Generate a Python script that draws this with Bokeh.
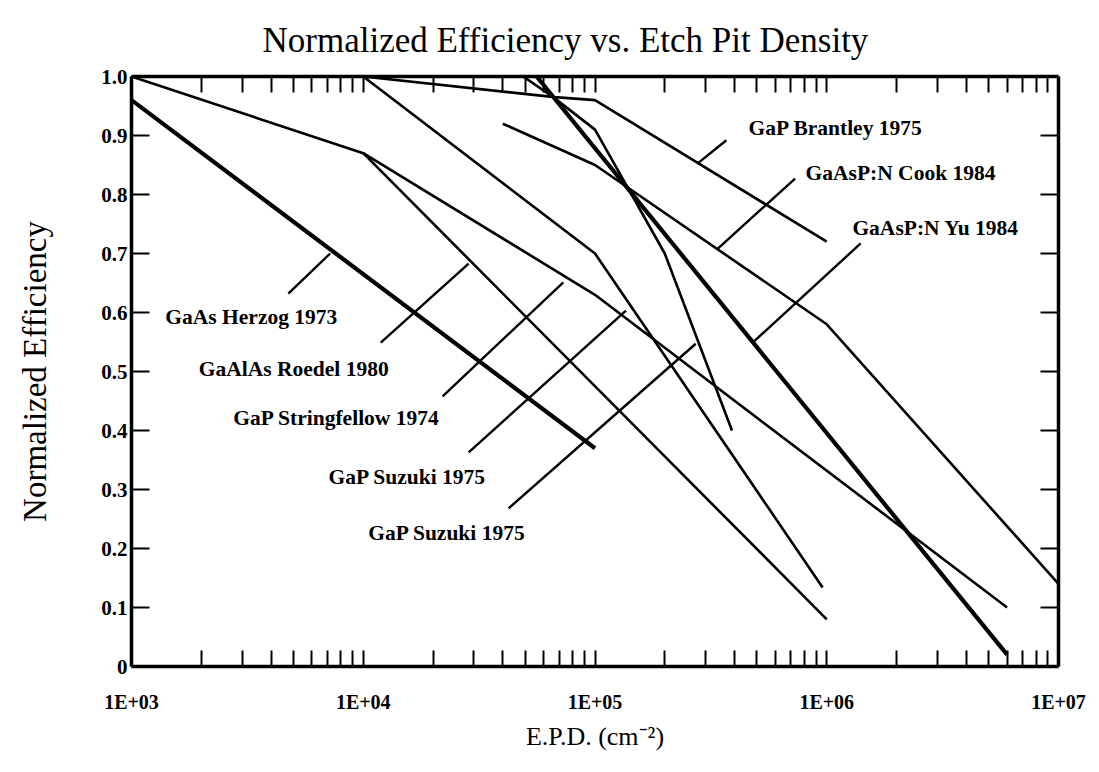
import math
from bokeh.plotting import figure
from bokeh.models import (FixedTicker, CustomJSTickFormatter, LogAxis, LinearAxis,
                          ColumnDataSource)
from bokeh.core.properties import value
from bokeh.embed import file_html
from bokeh.resources import INLINE

# ---------------- data ----------------
herzog_x = [1e3, 1e5]
herzog_y = [0.96, 0.37]

stringfellow_x = [1e3, 1e4, 1e5, 6e6]
stringfellow_y = [1.0, 0.87, 0.63, 0.10]

roedel_x = [1e4, 1e6]
roedel_y = [0.87, 0.08]

suzuki1_x = [1e4, 1e5, 9.6e5]
suzuki1_y = [1.0, 0.70, 0.134]

brantley_x = [1e4, 6.7e4, 1e5, 1e6]
brantley_y = [1.0, 0.965, 0.96, 0.72]

cook_x = [4e4, 1e5, 1e6, 1e7]
cook_y = [0.92, 0.85, 0.58, 0.14]

yu_x = [5.6e4, 6e6]
yu_y = [1.0, 0.02]

suzuki2_x = [4.9e4, 6.6e4, 1e5, 2e5, 3.9e5]
suzuki2_y = [1.0, 0.965, 0.91, 0.70, 0.40]

# labels and leader lines (data coordinates)
label_text = ["GaP Brantley 1975", "GaAsP:N Cook 1984", "GaAsP:N Yu 1984",
              "GaAs Herzog 1973", "GaAlAs Roedel 1980", "GaP Stringfellow 1974",
              "GaP Suzuki 1975", "GaP Suzuki 1975"]
label_x = [4.6e5, 8.1e5, 1.29e6, 1.40e3, 1.95e3, 2.75e3, 7.08e3, 1.05e4]
label_y = [0.912, 0.837, 0.744, 0.593, 0.505, 0.422, 0.322, 0.227]
leader_x0 = [2.8e5, 3.38e5, 4.79e5, 4.75e3, 1.19e4, 2.2e4, 2.85e4, 4.24e4]
leader_y0 = [0.854, 0.708, 0.549, 0.632, 0.549, 0.458, 0.363, 0.268]
leader_x1 = [3.69e5, 7.3e5, 1.4e6, 7.2e3, 2.85e4, 7.3e4, 1.36e5, 2.72e5]
leader_y1 = [0.892, 0.827, 0.717, 0.700, 0.683, 0.651, 0.603, 0.547]

x_decades = [1e3, 1e4, 1e5, 1e6, 1e7]
y_ticks = [0.0, 0.1, 0.2, 0.3, 0.4, 0.5, 0.6, 0.7, 0.8, 0.9, 1.0]

FONT = "Liberation Serif"
W, H = 1091, 764

p = figure(width=W, height=H, x_axis_type="log", x_range=(1e3, 1e7), y_range=(0, 1),
           output_backend="svg", toolbar_location=None,
           title="Normalized Efficiency vs. Etch Pit Density",
           min_border_left=131, min_border_right=33, min_border_top=76, min_border_bottom=98)
p.xgrid.visible = False
p.ygrid.visible = False
p.outline_line_color = None
p.background_fill_color = "white"
p.border_fill_color = "white"

p.title.text_font = FONT
p.title.text_font_size = "35px"
p.title.text_font_style = "normal"
p.title.text_color = "black"
p.title.align = "left"
p.title.offset = 131
p.title.standoff = 33

minor = [d * k for d in x_decades[:-1] for k in range(2, 10)]
xticker = FixedTicker(ticks=x_decades, minor_ticks=minor)
yticker = FixedTicker(ticks=y_ticks)

xfmt = CustomJSTickFormatter(code="return '1E+0' + Math.round(Math.log10(tick));")
yfmt = CustomJSTickFormatter(code="return tick < 0.05 ? '0' : tick.toFixed(1);")
blank = CustomJSTickFormatter(code="return '';")


def style_axis(ax):
    ax.axis_line_width = 3.5
    ax.axis_line_color = "black"
    ax.major_tick_in = 16
    ax.major_tick_out = 0
    ax.minor_tick_in = 16
    ax.minor_tick_out = 0
    ax.major_tick_line_width = 2
    ax.minor_tick_line_width = 2
    ax.major_tick_line_color = "black"
    ax.minor_tick_line_color = "black"
    ax.major_label_text_font = FONT
    ax.major_label_text_font_style = "bold"
    ax.major_label_text_font_size = "20px"
    ax.major_label_text_color = "black"
    ax.axis_label_text_font = FONT
    ax.axis_label_text_font_style = "normal"
    ax.axis_label_text_color = "black"


xa = p.xaxis[0]
xa.ticker = xticker
xa.formatter = xfmt
style_axis(xa)
xa.major_label_standoff = 24
xa.axis_label = "E.P.D. (cm\u207b\u00b2)"
xa.axis_label_text_font_size = "26px"
xa.axis_label_standoff = 6

ya = p.yaxis[0]
ya.ticker = yticker
ya.formatter = yfmt
style_axis(ya)
ya.minor_tick_in = 0
ya.major_tick_in = 18
ya.major_label_standoff = 4
ya.major_label_text_font_size = "21px"
ya.axis_label = "Normalized Efficiency"
ya.axis_label_text_font_size = "33px"
ya.axis_label_standoff = 45

top = LogAxis(ticker=xticker, formatter=blank)
style_axis(top)
top.major_label_text_font_size = "0px"
top.major_label_standoff = 0
p.add_layout(top, "above")

right = LinearAxis(ticker=yticker, formatter=blank)
style_axis(right)
right.minor_tick_in = 0
right.major_tick_in = 18
right.major_label_text_font_size = "0px"
right.major_label_standoff = 0
p.add_layout(right, "right")

thin = 2.6
thick = 4.2
p.line(herzog_x, herzog_y, line_width=thick, color="black")
p.line(stringfellow_x, stringfellow_y, line_width=thin, color="black")
p.line(roedel_x, roedel_y, line_width=thin, color="black")
p.line(suzuki1_x, suzuki1_y, line_width=thin, color="black")
p.line(brantley_x, brantley_y, line_width=thin, color="black")
p.line(cook_x, cook_y, line_width=thin, color="black")
p.line(yu_x, yu_y, line_width=thick, color="black")
p.line(suzuki2_x, suzuki2_y, line_width=thin, color="black")

p.segment(leader_x0, leader_y0, leader_x1, leader_y1, line_width=2.4, color="black")

src = ColumnDataSource(dict(x=label_x, y=label_y, t=label_text))
p.text(x="x", y="y", text="t", source=src, text_font=value(FONT), text_font_style="bold",
       text_font_size="21.5px", text_align="left", text_baseline="middle", text_color="black")

open("out.html", "w").write(file_html(p, INLINE))
